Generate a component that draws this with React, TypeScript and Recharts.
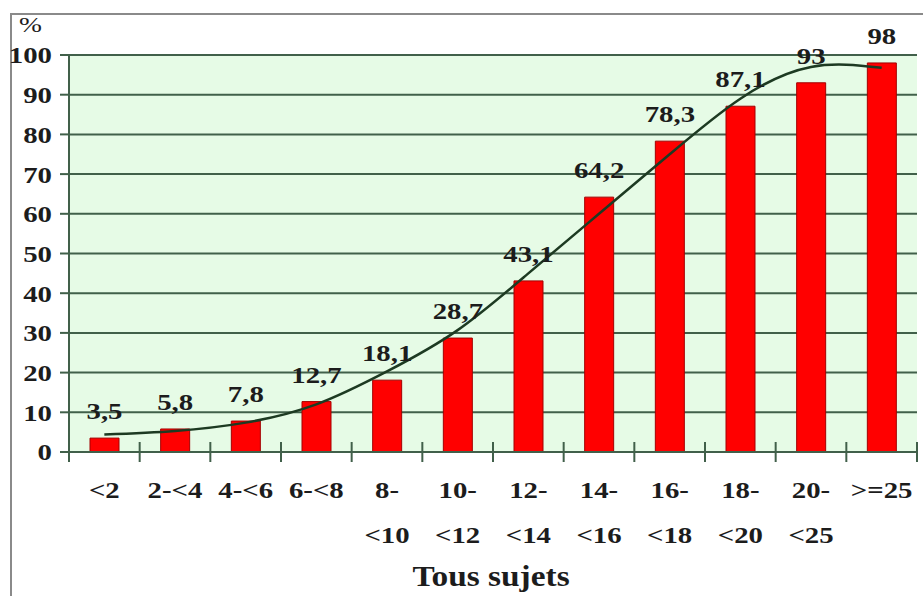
import React from 'react';
import { ComposedChart, Bar, Line, XAxis, YAxis, CartesianGrid, LabelList } from 'recharts';

const categories = ['<2', '2-<4', '4-<6', '6-<8', '8-\n<10', '10-\n<12', '12-\n<14', '14-\n<16', '16-\n<18', '18-\n<20', '20-\n<25', '>=25'];
const percentValues = [3.5, 5.8, 7.8, 12.7, 18.1, 28.7, 43.1, 64.2, 78.3, 87.1, 93, 98];
const trendValues = [4.4, 5.3, 7.4, 12.0, 20.3, 30.7, 45.0, 60.0, 75.0, 89.0, 97.0, 96.8];
const yTicks = [0, 10, 20, 30, 40, 50, 60, 70, 80, 90, 100];
const xTitle = 'Tous sujets';
const yUnit = '%';

const data = categories.map((c, i) => ({ cat: c, value: percentValues[i], trend: trendValues[i] }));

const FONT = '"Liberation Serif", "Times New Roman", serif';
const TEXT = '#1c1c1c';
const GRID = '#41604a';
const SX = 1.2;
const FS = 24;

const YTick = (props: any) => {
  const { x, y, payload } = props;
  return (
    <g transform={`translate(${x},${y}) scale(${SX},1)`}>
      <text x={0} y={0} dy="0.35em" textAnchor="end" fontFamily={FONT} fontWeight="bold" fontSize={FS} fill={TEXT}>
        {payload.value}
      </text>
    </g>
  );
};

const XTick = (props: any) => {
  const { x, y, payload, index } = props;
  const half = payload.offset || 0;
  const lines = String(payload.value).split('\n');
  return (
    <g>
      <line x1={x - half} x2={x - half} y1={y - 10} y2={y + 10} stroke={GRID} strokeWidth={2} />
      {index === categories.length - 1 && (
        <line x1={x + half} x2={x + half} y1={y - 10} y2={y + 10} stroke={GRID} strokeWidth={2} />
      )}
      {lines.map((ln, i) => (
        <g key={i} transform={`translate(${x},${y + 46 + i * 45}) scale(${SX},1)`}>
          <text x={0} y={0} textAnchor="middle" fontFamily={FONT} fontWeight="bold" fontSize={FS} fill={TEXT}>
            {ln}
          </text>
        </g>
      ))}
    </g>
  );
};

const BarLabel = (props: any) => {
  const { x, y, width, value } = props;
  const txt = String(value).replace('.', ',');
  return (
    <g transform={`translate(${x + width / 2},${y - 19}) scale(${SX},1)`}>
      <text x={0} y={0} textAnchor="middle" fontFamily={FONT} fontWeight="bold" fontSize={FS} fill={TEXT}>
        {txt}
      </text>
    </g>
  );
};

export default function App() {
  return (
    <div style={{ position: 'absolute', left: 0, top: 0, width: 923, height: 596, background: '#fff', overflow: 'hidden' }}>
      <div style={{ position: 'absolute', left: 10, top: 13, right: -10, bottom: -10, borderLeft: '2px solid #8a8a8a', borderTop: '2px solid #8a8a8a' }} />
      <div style={{ position: 'absolute', left: 0, top: 0 }}>
        <ComposedChart width={923} height={596} data={data} margin={{ top: 55, right: 6, bottom: 0, left: 0 }}>
          <CartesianGrid vertical={false} stroke={GRID} strokeWidth={2} fill="#e6fbe6" fillOpacity={1} />
          <XAxis
            dataKey="cat"
            height={144}
            tickSize={0}
            tickMargin={0}
            tickLine={false}
            interval={0}
            axisLine={{ stroke: GRID, strokeWidth: 2 }}
            tick={<XTick />}
          />
          <YAxis
            width={69}
            domain={[0, 100]}
            ticks={yTicks}
            interval={0}
            tickSize={9}
            tickMargin={8}
            axisLine={{ stroke: GRID, strokeWidth: 2 }}
            tickLine={{ stroke: GRID, strokeWidth: 2 }}
            tick={<YTick />}
          />
          <Bar dataKey="value" fill="#ff0000" stroke="#a30000" strokeWidth={1} barSize={29} isAnimationActive={false}>
            <LabelList dataKey="value" content={<BarLabel />} />
          </Bar>
          <Line
            type="natural"
            dataKey="trend"
            stroke="#1d3a22"
            strokeWidth={2.5}
            dot={false}
            activeDot={false}
            isAnimationActive={false}
          />
        </ComposedChart>
      </div>
      <svg width={923} height={596} style={{ position: 'absolute', left: 0, top: 0, pointerEvents: 'none' }}>
        <g transform={`translate(19,32) scale(1.25,1)`}>
          <text x={0} y={0} fontFamily={FONT} fontSize={22} fill={TEXT}>{yUnit}</text>
        </g>
        <g transform={`translate(491,586) scale(1.15,1)`}>
          <text x={0} y={0} textAnchor="middle" fontFamily={FONT} fontWeight="bold" fontSize={29} fill={TEXT}>{xTitle}</text>
        </g>
      </svg>
    </div>
  );
}
